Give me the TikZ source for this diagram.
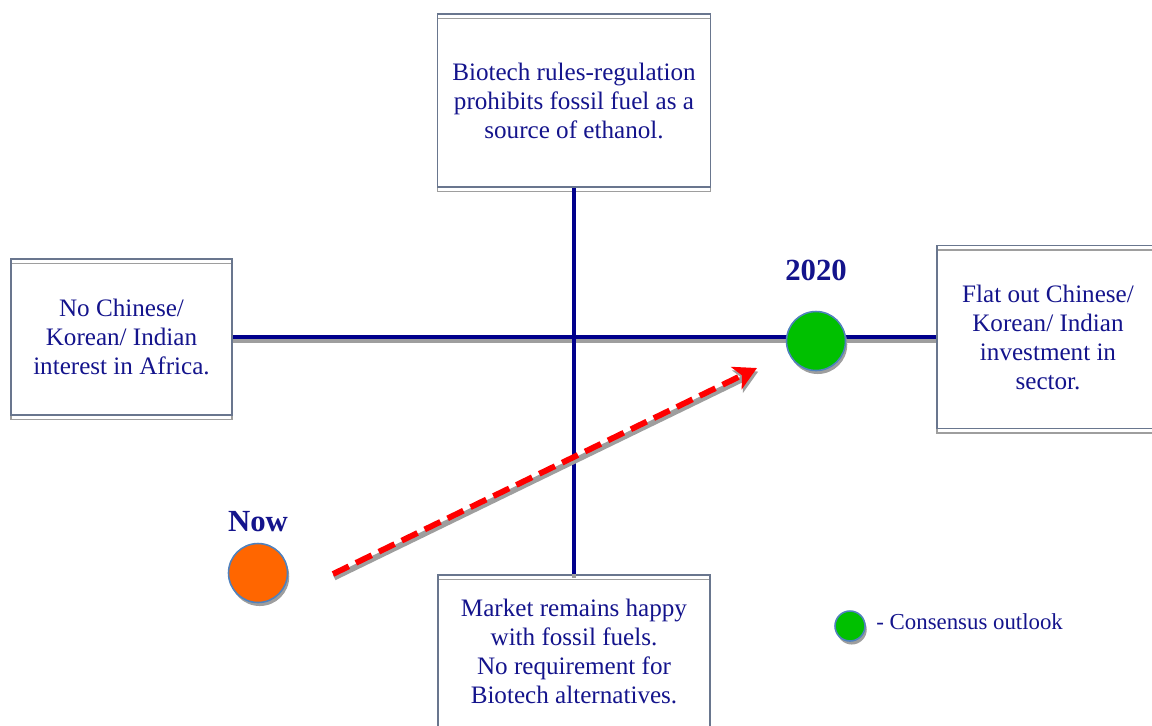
\documentclass[tikz,border=0pt]{standalone}
\usepackage{fontspec}
\setmainfont{Liberation Serif}
\usetikzlibrary{arrows.meta, positioning}
\definecolor{txtblue}{RGB}{20,20,140}
\definecolor{boxline}{RGB}{105,118,142}
\definecolor{shadowgray}{RGB}{158,158,158}
\definecolor{axisblue}{RGB}{0,0,140}
\definecolor{dotline}{RGB}{79,129,189}
\definecolor{dotgreen}{RGB}{0,192,0}
\definecolor{dotorange}{RGB}{255,102,0}
\definecolor{trendred}{RGB}{255,0,0}

\begin{document}
\begin{tikzpicture}[x=0.02cm, y=-0.02cm,
    txt/.style={text=txtblue, font=\fontsize{13}{16.4}\selectfont},
    box/.style={text=txtblue, font=\fontsize{14.3}{16.5}\selectfont, draw=boxline,
        line width=0.9pt, align=center, inner sep=0pt,
        preaction={draw=shadowgray, line width=0.9pt, transform canvas={yshift=-2.6pt}}},
    axis/.style={draw=axisblue, line width=2.3pt,
        preaction={draw=shadowgray, line width=2.3pt, transform canvas={yshift=-2.2pt}}},
    dot/.style={circle, draw=dotline, line width=0.9pt, inner sep=0pt,
        preaction={fill=shadowgray, transform canvas={xshift=1pt, yshift=-2pt}}},
    year/.style={text=txtblue, font=\fontsize{17.5}{20}\selectfont\bfseries, inner sep=0pt},
    trend/.style={draw=trendred, line width=3.3pt, dash pattern=on 10pt off 4.5pt,
        -{Stealth[length=13pt, width=14pt, inset=3.5pt]},
        preaction={draw=shadowgray, line width=3.3pt, transform canvas={xshift=0.7pt, yshift=-2pt}}}]
  \useasboundingbox (0,0) rectangle (1152,725);

  % scenario boxes
  \node[box, minimum width=5.46cm, minimum height=3.46cm] (reg) at (574,100.5)
    {Biotech rules-regulation\\prohibits fossil fuel as a\\source of ethanol.};
  \node[box, minimum width=4.42cm, minimum height=3.12cm] (noint) at (121.5,337)
    {No Chinese/\\Korean/ Indian\\interest in Africa.};
  \node[box, minimum width=4.44cm, minimum height=3.66cm] (flatout) at (1048,337)
    {Flat out Chinese/\\Korean/ Indian\\investment in\\sector.};
  \node[box, minimum width=5.44cm, minimum height=3.04cm] (market) at (574,651)
    {Market remains happy\\with fossil fuels.\\No requirement for\\Biotech alternatives.};

  % axes
  \draw[axis] (noint.east) -- (flatout.west);
  \draw[axis] (reg.south) -- (market.north);

  % trend from now to 2020
  \coordinate (from) at (333,574);
  \coordinate (to) at (757,368);
  \draw[trend] (from) -- (to);

  \node[dot, fill=dotgreen, minimum size=1.18cm] (outlook) at (816,341) {};
  \node[dot, fill=dotorange, minimum size=1.18cm] (now) at (258,573) {};
  \node[year, above=0.6cm of outlook] (yr) {2020};
  \node[year, above=0.22cm of now] (nowlbl) {Now};

  % legend
  \node[dot, fill=dotgreen, minimum size=0.6cm] (key) at (850,626) {};
  \node[txt, anchor=base west, inner sep=0pt] (keytxt) at (876,629) {- Consensus outlook};
\end{tikzpicture}
\end{document}
